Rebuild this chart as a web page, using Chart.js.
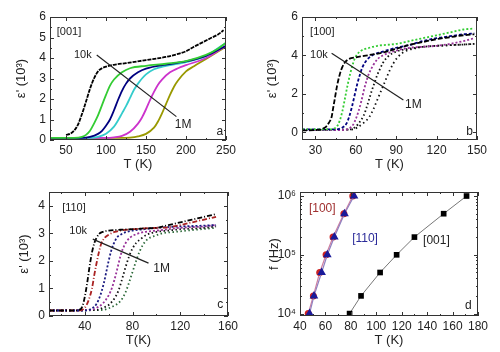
<!DOCTYPE html>
<html><head><meta charset="utf-8">
<script src="https://cdn.jsdelivr.net/npm/chart.js@4.4.0/dist/chart.umd.min.js"></script>
<style>
html,body{margin:0;padding:0;background:#fff;overflow:hidden;}
.p{position:absolute;width:250px;height:176px;}
canvas{display:block;}
</style></head><body>
<div class="p" style="left:0;top:0"><canvas id="ca" width="250" height="176"></canvas></div>
<div class="p" style="left:250px;top:0"><canvas id="cb" width="250" height="176"></canvas></div>
<div class="p" style="left:0;top:176px"><canvas id="cc" width="250" height="176"></canvas></div>
<div class="p" style="left:250px;top:176px"><canvas id="cd" width="250" height="176"></canvas></div>
<script>
// ---------------- DATA ----------------
// Panel a: [001], eps' (10^3) vs T (K)
const aT_10k = [50,55,60,65,68,72,76,80,85,90,95,100,110,125,150,175,190,200,210,220,230,240,247];
const aE_10k = [0.25,0.3,0.45,0.75,1.05,1.5,2.0,2.5,3.0,3.35,3.5,3.58,3.67,3.75,3.9,4.05,4.2,4.33,4.55,4.75,4.95,5.15,5.35];
const aT_20k = [30,60,70,75,80,85,90,95,100,105,110,120,130,150,175,200,225,240,250];
const aE_20k = [0.1,0.1,0.15,0.25,0.45,0.8,1.2,1.7,2.2,2.65,2.95,3.3,3.5,3.62,3.72,3.85,4.15,4.45,4.75];
const aT_50k = [30,70,80,90,95,100,105,110,115,120,125,130,140,150,175,200,225,250];
const aE_50k = [0.1,0.1,0.15,0.3,0.45,0.7,1.0,1.45,1.95,2.4,2.75,3.0,3.3,3.48,3.68,3.83,4.1,4.6];
const aT_100k = [30,80,90,100,110,115,120,125,130,135,140,145,150,160,175,200,225,250];
const aE_100k = [0.1,0.1,0.15,0.3,0.65,0.95,1.3,1.65,2.05,2.45,2.75,3.0,3.2,3.45,3.62,3.8,4.1,4.75];
const aT_200k = [30,100,110,120,130,140,145,150,155,160,165,170,180,190,200,225,250];
const aE_200k = [0.1,0.1,0.13,0.2,0.4,0.8,1.1,1.5,1.95,2.35,2.7,2.95,3.3,3.5,3.65,4.0,4.6];
const aT_1M = [30,120,130,140,150,160,165,170,175,180,185,190,200,210,225,250];
const aE_1M = [0.1,0.1,0.12,0.18,0.3,0.6,0.9,1.3,1.75,2.2,2.6,2.9,3.35,3.6,3.95,4.55];
const aXTicks = [50,100,150,200,250];
const aYTicks = [0,1,2,3,4,5,6];

// Panel b: [100]
const bT_1 = [20,30,35,38,40,42,43,44,46,48,50,52,55,60,70,80,90,100,110,120,130,140,148];
const bE_1 = [0.1,0.12,0.18,0.3,0.5,0.8,1.2,1.6,2.4,3.0,3.4,3.65,3.82,3.9,4.02,4.15,4.35,4.55,4.7,4.85,4.95,5.05,5.1];
const bT_2 = [20,40,44,46,48,50,52,54,56,58,60,64,70,76,90,100,110,120,130,140,148];
const bE_2 = [0.15,0.15,0.2,0.3,0.6,1.1,1.8,2.5,3.1,3.6,3.95,4.25,4.4,4.5,4.6,4.75,4.9,5.05,5.2,5.35,5.4];
const bT_3 = [20,45,50,53,55,57,59,61,63,65,68,72,80,90,100,110,120,130,140,148];
const bE_3 = [0.15,0.15,0.25,0.45,0.8,1.3,1.9,2.5,3.0,3.4,3.75,4.0,4.2,4.4,4.55,4.75,4.9,5.0,5.1,5.15];
const bT_4 = [20,50,55,58,60,62,64,66,68,70,73,76,80,90,100,110,120,130,140,148];
const bE_4 = [0.12,0.12,0.2,0.4,0.7,1.1,1.6,2.2,2.7,3.1,3.5,3.8,4.0,4.25,4.4,4.45,4.5,4.6,4.75,4.9];
const bT_5 = [20,55,60,63,66,68,70,72,74,76,78,80,84,90,100,110,120,135,148];
const bE_5 = [0.12,0.15,0.3,0.55,0.9,1.3,1.75,2.2,2.6,3.0,3.3,3.6,3.95,4.2,4.35,4.45,4.5,4.55,4.6];
const bT_6 = [20,58,62,66,70,73,76,79,82,85,88,91,95,100,110,120,135,148];
const bE_6 = [0.12,0.15,0.3,0.5,0.8,1.2,1.7,2.2,2.7,3.2,3.6,3.9,4.15,4.3,4.45,4.5,4.55,4.6];
const bXTicks = [30,60,90,120,150];
const bYTicks = [0,2,4,6];

// Panel c: [110]
const cT_1 = [10,30,35,38,40,42,44,46,48,50,52,55,60,70,80,90,100,110,120,130,140,150];
const cE_1 = [0.2,0.2,0.22,0.35,0.7,1.2,1.8,2.3,2.65,2.85,2.98,3.05,3.1,3.13,3.15,3.18,3.2,3.3,3.4,3.5,3.6,3.7];
const cT_2 = [10,35,40,43,46,48,50,52,54,57,60,65,70,80,90,100,110,120,130,140,150];
const cE_2 = [0.2,0.2,0.3,0.55,1.0,1.5,1.95,2.35,2.65,2.85,2.95,3.05,3.1,3.15,3.18,3.2,3.22,3.3,3.4,3.5,3.6];
const cT_3 = [10,40,45,50,53,56,58,60,62,64,67,70,75,80,90,100,120,140,150];
const cE_3 = [0.2,0.2,0.25,0.45,0.75,1.2,1.6,2.0,2.35,2.6,2.85,2.95,3.05,3.1,3.15,3.2,3.25,3.28,3.3];
const cT_4 = [10,45,50,55,60,63,66,68,70,72,75,78,82,90,100,120,140,150];
const cE_4 = [0.2,0.22,0.3,0.45,0.75,1.05,1.5,1.85,2.2,2.45,2.7,2.85,2.95,3.05,3.1,3.2,3.25,3.3];
const cT_5 = [10,50,55,60,65,68,71,74,77,80,83,87,92,100,110,120,140,150];
const cE_5 = [0.2,0.22,0.3,0.4,0.65,0.9,1.3,1.75,2.15,2.45,2.65,2.8,2.95,3.05,3.1,3.15,3.2,3.25];
const cT_6 = [10,55,60,65,70,74,77,80,83,86,89,93,98,105,115,130,150];
const cE_6 = [0.2,0.22,0.28,0.38,0.55,0.85,1.2,1.6,2.0,2.35,2.6,2.8,2.9,3.0,3.05,3.12,3.2];
const cXTicks = [40,80,120,160];
const cYTicks = [0,1,2,3,4];

// Panel d: f (Hz) vs T (K)
const dFreq = [1e4,2e4,5e4,1e5,2e5,5e5,1e6];
const dT_001 = [79,88,103,116,130,153,171];
const dT_100 = [46.5,50.5,55.5,60.5,66,74.5,81.5];
const dT_110 = [47.5,51,57,61.5,67,75,82.5];
const dXTicks = [40,60,80,100,120,140,160,180];
const dYTicks = [1e4,1e5,1e6];

// ---------------- HELPERS ----------------
const FONT = "'Liberation Sans', Arial, sans-serif";
const pts = (xs, ys) => xs.map((x,i)=>({x, y: ys[i]}));
const sup = {'0':'⁰','1':'¹','2':'²','3':'³','4':'⁴','5':'⁵','6':'⁶','7':'⁷','8':'⁸','9':'⁹'};

const framePlugin = {
  id: 'frame',
  afterDatasetsDraw(chart, args, o) {
    const {ctx, chartArea: a, scales} = chart;
    const xs = scales.x, ys = scales.y;
    ctx.save();
    ctx.strokeStyle = '#333';
    ctx.lineWidth = 1;
    ctx.strokeRect(a.left + 0.5, a.top + 0.5, a.right - a.left - 1, a.bottom - a.top - 1);
    const seg = (x1,y1,x2,y2) => { ctx.beginPath(); ctx.moveTo(x1,y1); ctx.lineTo(x2,y2); ctx.stroke(); };
    const L = 4, l = 2;
    const xv = xs.ticks.map(t=>t.value);
    xv.forEach(v => { const p = Math.round(xs.getPixelForValue(v)) + 0.5; seg(p,a.bottom,p,a.bottom-L); seg(p,a.top,p,a.top+L); });
    for (let i=0;i<xv.length-1;i++){ const p = Math.round(xs.getPixelForValue((xv[i]+xv[i+1])/2))+0.5; seg(p,a.bottom,p,a.bottom-l); seg(p,a.top,p,a.top+l);}
    if (xv.length){ const step = xv[1]-xv[0];
      for (let v = xv[0]-step/2; v >= xs.min; v -= step){ const p = Math.round(xs.getPixelForValue(v))+0.5; seg(p,a.bottom,p,a.bottom-l); seg(p,a.top,p,a.top+l);} }
    const yv = ys.ticks.map(t=>t.value);
    yv.forEach(v => { const p = Math.round(ys.getPixelForValue(v)) + 0.5; seg(a.left,p,a.left+L,p); seg(a.right,p,a.right-L,p); });
    if (ys.type === 'logarithmic') {
      yv.forEach(v => { for (let k=2;k<10;k++){ const val=v*k; if (val>ys.max) break; const p=Math.round(ys.getPixelForValue(val))+0.5; seg(a.left,p,a.left+l,p); seg(a.right,p,a.right-l,p);} });
    } else {
      for (let i=0;i<yv.length-1;i++){ const p = Math.round(ys.getPixelForValue((yv[i]+yv[i+1])/2))+0.5; seg(a.left,p,a.left+l,p); seg(a.right,p,a.right-l,p);}
    }
    ctx.restore();
  }
};

const annotPlugin = {
  id: 'annot',
  afterDraw(chart, args, o) {
    const {ctx, scales} = chart;
    const xs = scales.x, ys = scales.y;
    ctx.save();
    (o.lines||[]).forEach(ln => {
      ctx.strokeStyle = '#222'; ctx.lineWidth = 1.2;
      ctx.beginPath();
      ctx.moveTo(xs.getPixelForValue(ln.x1), ys.getPixelForValue(ln.y1));
      ctx.lineTo(xs.getPixelForValue(ln.x2), ys.getPixelForValue(ln.y2));
      ctx.stroke();
    });
    (o.texts||[]).forEach(t => {
      ctx.fillStyle = t.color || '#222';
      ctx.font = (t.size||11) + 'px ' + FONT;
      ctx.textAlign = t.align || 'left';
      ctx.textBaseline = 'middle';
      ctx.fillText(t.text, xs.getPixelForValue(t.x), ys.getPixelForValue(t.y));
    });
    ctx.restore();
  }
};

function line(data, color, width, dash) {
  return { data, borderColor: color, backgroundColor: color, borderWidth: width, borderDash: dash || [],
           pointRadius: 0, cubicInterpolationMode: 'monotone', fill: false };
}

function makeChart(id, box, xc, yc, datasets, annot) {
  const W = 250, H = 176;
  const tickFont = {family: FONT, size: 12};
  const titleFont = {family: FONT, size: 13};
  return new Chart(document.getElementById(id), {
    type: 'line',
    data: { datasets },
    options: {
      responsive: false, animation: false, devicePixelRatio: 1,
      layout: { padding: { left: 0, top: box.top, right: W - box.right, bottom: 0 } },
      plugins: { legend: {display: false}, tooltip: {enabled: false}, annot },
      scales: {
        x: {
          type: 'linear', position: 'bottom', min: xc.min, max: xc.max,
          grid: {display: false, drawTicks: false}, border: {display: false},
          afterBuildTicks: s => { s.ticks = xc.ticks.map(v => ({value: v})); },
          ticks: { font: tickFont, color: '#222', padding: xc.pad, maxRotation: 0, autoSkip: false },
          title: { display: true, text: xc.title, font: titleFont, color: '#222', padding: {top: 0, bottom: xc.titlePad} },
          afterFit: s => { s.height = H - box.bottom; }
        },
        y: {
          type: yc.type || 'linear', position: 'left', min: yc.min, max: yc.max,
          grid: {display: false, drawTicks: false}, border: {display: false},
          afterBuildTicks: s => { s.ticks = yc.ticks.map(v => ({value: v})); },
          ticks: { font: tickFont, color: '#222', padding: yc.pad, autoSkip: false,
                   callback: yc.cb || (v => String(v)) },
          title: { display: true, text: yc.title, font: titleFont, color: '#222', padding: {top: yc.titlePad, bottom: 0} },
          afterFit: s => { s.width = box.left; }
        }
      }
    },
    plugins: [framePlugin, annotPlugin]
  });
}

const EPS = "ε' (10³)";

// ---------------- PANEL A ----------------
makeChart('ca', {left: 50, right: 226, top: 17, bottom: 140},
  {min: 30, max: 250, ticks: aXTicks, title: 'T (K)', pad: 3, titlePad: 4},
  {min: 0, max: 6, ticks: aYTicks, title: EPS, pad: 4, titlePad: 14},
  [
    line(pts(aT_10k, aE_10k), '#000000', 1.8, [4,1]),
    line(pts(aT_20k, aE_20k), '#33cc33', 1.8),
    line(pts(aT_50k, aE_50k), '#000080', 1.8),
    line(pts(aT_100k, aE_100k), '#33cccc', 1.8),
    line(pts(aT_200k, aE_200k), '#cc33cc', 1.8),
    line(pts(aT_1M, aE_1M), '#999900', 1.8)
  ],
  { texts: [
      {x: 38.5, y: 5.27, text: '[001]', size: 11},
      {x: 60, y: 4.15, text: '10k', size: 11},
      {x: 186, y: 0.73, text: '1M', size: 12},
      {x: 246.5, y: 0.4, text: 'a', size: 12, align: 'right'}
    ],
    lines: [{x1: 88.4, y1: 4.15, x2: 188, y2: 1.14}] });

// ---------------- PANEL B ----------------
makeChart('cb', {left: 52, right: 227, top: 17, bottom: 140},
  {min: 20, max: 150, ticks: bXTicks, title: 'T (K)', pad: 3, titlePad: 4},
  {min: -0.4, max: 6, ticks: bYTicks, title: EPS, pad: 4, titlePad: 15},
  [
    line(pts(bT_1, bE_1), '#000000', 1.8, [5,2]),
    line(pts(bT_2, bE_2), '#33cc33', 1.8, [2,2]),
    line(pts(bT_3, bE_3), '#000080', 1.8, [3,2]),
    line(pts(bT_4, bE_4), '#993399', 1.8, [2,2]),
    line(pts(bT_5, bE_5), '#111111', 1.8, [1.5,2.5]),
    line(pts(bT_6, bE_6), '#111111', 1.8, [1.5,3])
  ],
  { texts: [
      {x: 26, y: 5.22, text: '[100]', size: 11},
      {x: 26, y: 4.02, text: '10k', size: 11},
      {x: 96.5, y: 1.42, text: '1M', size: 12},
      {x: 147, y: 0.03, text: 'b', size: 12, align: 'right'}
    ],
    lines: [{x1: 42, y1: 4.11, x2: 95.3, y2: 1.68}] });

// ---------------- PANEL C ----------------
makeChart('cc', {left: 49, right: 228, top: 16, bottom: 140},
  {min: 10, max: 160, ticks: cXTicks, title: 'T(K)', pad: 3, titlePad: 4},
  {min: 0, max: 4.5, ticks: cYTicks, title: EPS, pad: 4, titlePad: 17},
  [
    line(pts(cT_1, cE_1), '#000000', 1.8, [5,2,1,2]),
    line(pts(cT_2, cE_2), '#aa2222', 1.8, [5,2,1,2]),
    line(pts(cT_3, cE_3), '#1a1a80', 1.8, [2,2]),
    line(pts(cT_4, cE_4), '#993399', 1.8, [2,2]),
    line(pts(cT_5, cE_5), '#111111', 1.8, [1.5,2.5]),
    line(pts(cT_6, cE_6), '#2d6a3a', 1.8, [1.5,2.5])
  ],
  { texts: [
      {x: 21, y: 3.93, text: '[110]', size: 11},
      {x: 27, y: 3.09, text: '10k', size: 11},
      {x: 97.4, y: 1.71, text: '1M', size: 12},
      {x: 156, y: 0.4, text: 'c', size: 12, align: 'right'}
    ],
    lines: [{x1: 46.7, y1: 2.79, x2: 93.4, y2: 1.92}] });

// ---------------- PANEL D ----------------
makeChart('cd', {left: 50, right: 228, top: 16, bottom: 140},
  {min: 40, max: 180, ticks: dXTicks, title: 'T (K)', pad: 3, titlePad: 4},
  {type: 'logarithmic', min: 9.1e3, max: 1.17e6, ticks: dYTicks, title: 'f (Hz)', pad: 4, titlePad: 17,
   cb: v => '10' + String(Math.round(Math.log10(v))).split('').map(c=>sup[c]).join('')},
  [
    { data: pts(dT_110, dFreq), borderColor: '#9080c0', borderWidth: 1.2, backgroundColor: '#1a1a99',
      pointStyle: 'triangle', pointRadius: 5, pointBorderColor: '#1a1a99', pointBackgroundColor: '#1a1a99', pointBorderWidth: 0 },
    { data: pts(dT_100, dFreq), borderColor: '#d080a0', borderWidth: 1.2, backgroundColor: '#cc2222',
      pointStyle: 'circle', pointRadius: 3.5, pointBorderColor: '#cc2222', pointBackgroundColor: '#cc2222', pointBorderWidth: 0 },
    { data: pts(dT_001, dFreq), borderColor: '#777777', borderWidth: 1, backgroundColor: '#000000',
      pointStyle: 'rect', pointRadius: 4, pointBorderColor: '#000000', pointBackgroundColor: '#000000', pointBorderWidth: 0 }
  ],
  { texts: [
      {x: 47, y: 6.0e5, text: '[100]', size: 12, color: '#a03030'},
      {x: 81, y: 1.86e5, text: '[110]', size: 12, color: '#2a2a99'},
      {x: 136.8, y: 1.72e5, text: '[001]', size: 12},
      {x: 175, y: 1.35e4, text: 'd', size: 12, align: 'right'}
    ],
    lines: [] });
</script>
</body></html>
